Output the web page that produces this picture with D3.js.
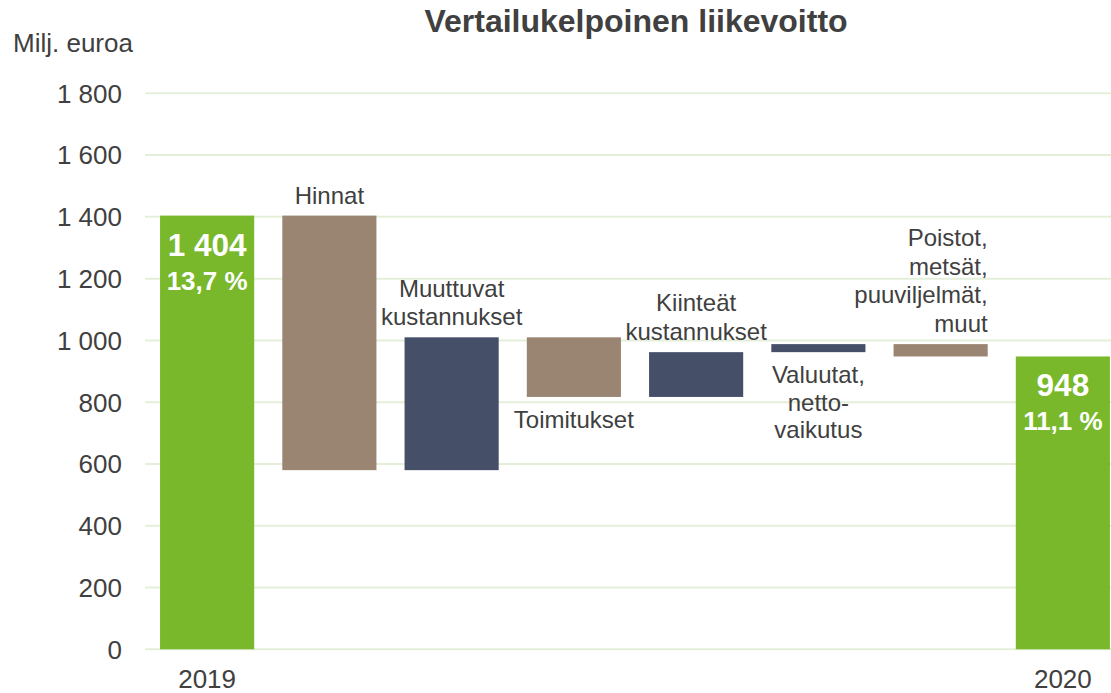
<!DOCTYPE html>
<html>
<head>
<meta charset="utf-8">
<script src="https://cdn.jsdelivr.net/npm/d3@7"></script>
<style>
  body { margin: 0; background: #fff; }
  text { font-family: "Liberation Sans", Arial, sans-serif; fill: #404040; }
</style>
</head>
<body>
<svg id="chart" width="1111" height="693"></svg>
<script>
// data
var categories = ["2019", "Hinnat", "Muuttuvat kustannukset", "Toimitukset",
                  "Kiinteät kustannukset", "Valuutat, nettovaikutus",
                  "Poistot, metsät, puuviljelmät, muut", "2020"];
var changes = [1404, -824, 430, -193, 145, 26, -40, 948];
var isTotal = [true, false, false, false, false, false, false, true];
var margins = [13.7, null, null, null, null, null, null, 11.1];
var labelLines = [[], ["Hinnat"], ["Muuttuvat", "kustannukset"], ["Toimitukset"],
                  ["Kiinteät", "kustannukset"], ["Valuutat,", "netto-", "vaikutus"],
                  ["Poistot,", "metsät,", "puuviljelmät,", "muut"], []];
var xLabels = ["2019", "", "", "", "", "", "", "2020"];
var yTicks = [0, 200, 400, 600, 800, 1000, 1200, 1400, 1600, 1800];

// where each label goes relative to its bar
var labelSide = ["", "above", "above", "below", "above", "below", "above-right", ""];

var svg = d3.select("#chart");
var fi = d3.formatLocale({decimal: ",", thousands: " ", grouping: [3], currency: ["", ""]});
var fmt = fi.format(",d");
var pct = fi.format(",.1f");

var colors = {total: "#78b82a", up: "#455068", down: "#9a8573"};

// running totals for the waterfall
var steps = [];
var run = 0;
changes.forEach(function(v, i) {
  if (isTotal[i]) {
    steps.push({i: i, lo: 0, hi: v, type: "total"});
    run = v;
  } else {
    var next = run + v;
    steps.push({i: i, lo: Math.min(run, next), hi: Math.max(run, next), type: v < 0 ? "down" : "up"});
    run = next;
  }
});

var x = d3.scaleBand().domain(d3.range(categories.length))
    .range([146, 1124]).paddingInner(0.23).paddingOuter(0.115);
var y = d3.scaleLinear().domain([0, 1800]).range([649.3, 93.3]);

// grid
svg.append("g").selectAll("line").data(yTicks).enter().append("line")
  .attr("x1", 145).attr("x2", 1111)
  .attr("y1", function(d) { return y(d); })
  .attr("y2", function(d) { return y(d); })
  .attr("stroke", "#e4efd9").attr("stroke-width", 2);

// y axis labels
svg.append("g").selectAll("text").data(yTicks).enter().append("text")
  .attr("x", 122).attr("y", function(d) { return y(d); })
  .attr("dy", "0.36em").attr("text-anchor", "end")
  .style("font-size", "26px")
  .text(function(d) { return fmt(d); });

svg.append("text").attr("x", 13).attr("y", 52)
  .style("font-size", "26px").text("Milj. euroa");

svg.append("text").attr("x", 636).attr("y", 32)
  .attr("text-anchor", "middle")
  .style("font-size", "32px").style("font-weight", "bold")
  .text("Vertailukelpoinen liikevoitto");

// x labels
svg.append("g").selectAll("text").data(xLabels).enter().append("text")
  .attr("x", function(d, i) { return x(i) + x.bandwidth() / 2; })
  .attr("y", 688)
  .attr("text-anchor", "middle")
  .style("font-size", "26px")
  .text(function(d) { return d; });

// bars
svg.append("g").selectAll("rect").data(steps).enter().append("rect")
  .attr("x", function(d) { return x(d.i); })
  .attr("width", x.bandwidth())
  .attr("y", function(d) { return y(d.hi); })
  .attr("height", function(d) { return y(d.lo) - y(d.hi); })
  .attr("fill", function(d) { return colors[d.type]; });

// value labels inside the total bars
var totals = steps.filter(function(d) { return d.type == "total"; });
var tg = svg.append("g").selectAll("g").data(totals).enter().append("g")
  .attr("transform", function(d) {
    return "translate(" + (x(d.i) + x.bandwidth() / 2) + "," + y(d.hi) + ")";
  });
tg.append("text").attr("y", 40).attr("text-anchor", "middle")
  .style("font-size", "31.5px").style("font-weight", "bold").style("fill", "#fff")
  .text(function(d) { return fmt(changes[d.i]); });
tg.append("text").attr("y", 74).attr("text-anchor", "middle")
  .style("font-size", "26px").style("font-weight", "bold").style("fill", "#fff")
  .text(function(d) { return pct(margins[d.i]) + " %"; });

// category labels next to the floating bars
var lh = 28.7;
steps.forEach(function(d) {
  var lines = labelLines[d.i];
  if (!lines.length) return;
  var side = labelSide[d.i];
  var cx = x(d.i) + x.bandwidth() / 2;
  var anchor = "middle";
  if (side == "above-right") { cx = x(d.i) + x.bandwidth(); anchor = "end"; }
  var below = side == "below";
  var t = svg.append("text").attr("text-anchor", anchor).style("font-size", "24px");
  lines.forEach(function(s, k) {
    var yy = below ? y(d.lo) + 31 + k * 27.5
                   : y(d.hi) - 12 - (lines.length - 1 - k) * lh;
    t.append("tspan").attr("x", cx).attr("y", yy).text(s);
  });
});
</script>
</body>
</html>
